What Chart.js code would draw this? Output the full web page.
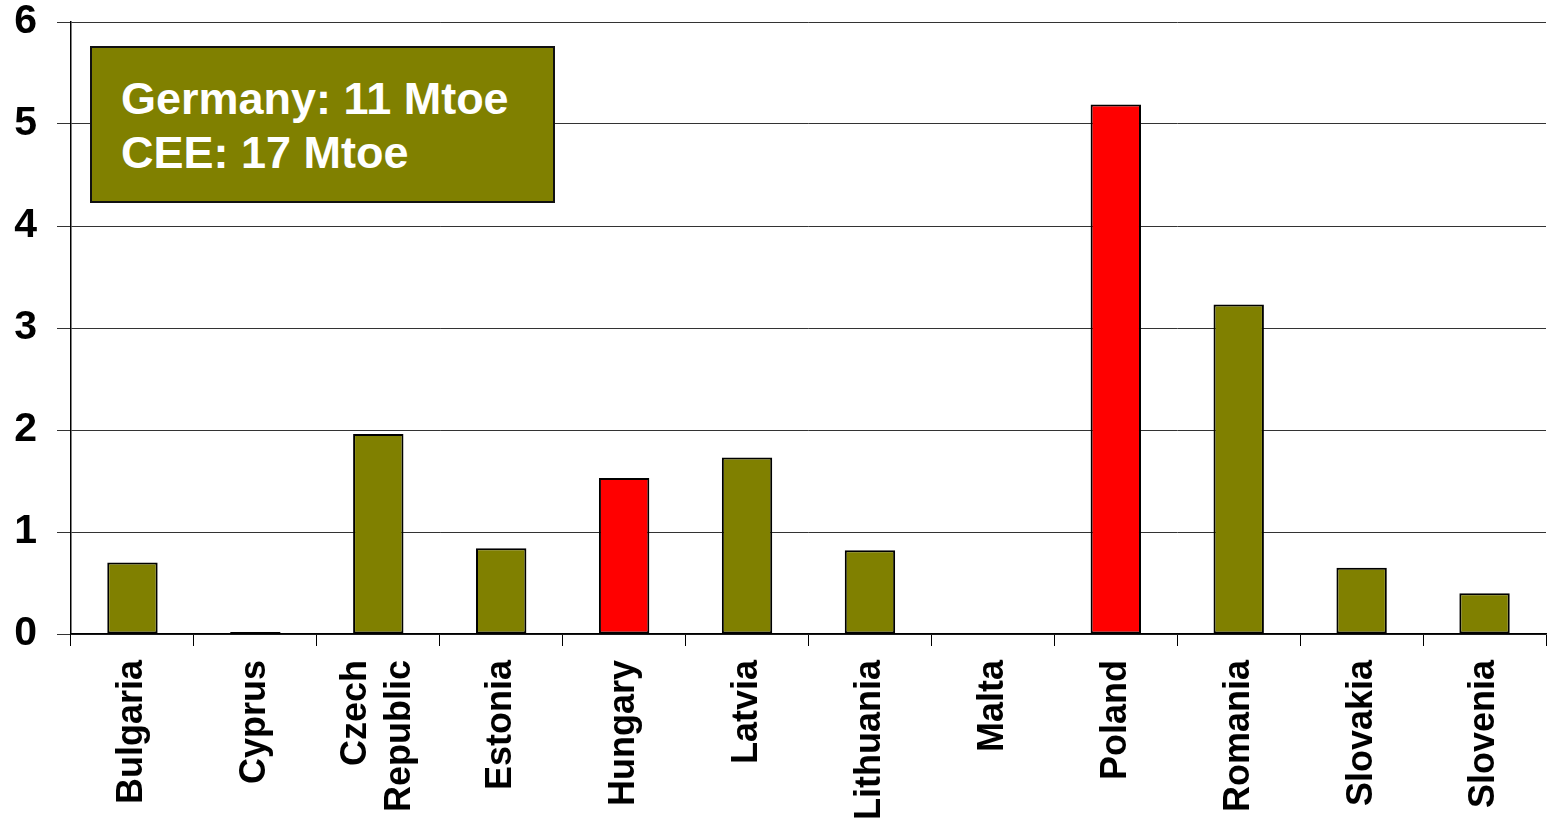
<!DOCTYPE html>
<html lang="en">
<head>
<meta charset="utf-8">
<script src="https://cdn.jsdelivr.net/npm/chart.js"></script>
<style>
  html, body { margin: 0; padding: 0; background: #fff; }
  .wrap { position: relative; width: 1550px; height: 819px; }
  .note {
    position: absolute; left: 90px; top: 46px; width: 465px; height: 157px;
    background: #808000; border: 2px solid #111;
    color: #fff; font: bold 45px "Liberation Sans", Arial, sans-serif;
    line-height: 54px; padding: 24px 0 0 29px; box-sizing: border-box;
  }
</style>
</head>
<body>
<div class="wrap">
  <canvas id="c" width="1550" height="819"></canvas>
  <div class="note">Germany: 11 Mtoe<br>CEE: 17 Mtoe</div>
</div>
<script>
const countries = ['Bulgaria', 'Cyprus', ['Czech', 'Republic'], 'Estonia', 'Hungary', 'Latvia',
  'Lithuania', 'Malta', 'Poland', 'Romania', 'Slovakia', 'Slovenia'];
const values = [0.70, 0.02, 1.96, 0.84, 1.53, 1.73, 0.82, 0, 5.19, 3.23, 0.65, 0.40];
const highlighted = ['Hungary', 'Poland'];
const yTicks = [0, 1, 2, 3, 4, 5, 6];

const OLIVE = '#808000';
const RED = '#FF0000';
const colors = countries.map(c => highlighted.includes(c) ? RED : OLIVE);

const font = 'Liberation Sans, Arial, sans-serif';

// two-line rotated labels: centre the block on the tick instead of starting at it
const centerMultiline = {
  id: 'centerMultiline',
  beforeDraw(chart) {
    const s = chart.scales.x;
    s.getLabelItems().forEach(item => {
      if (Array.isArray(item.label) && !item._centered) {
        const lh = s._resolveTickFontOptions(0).lineHeight;
        item.options.translation[0] -= (item.label.length - 1) * lh / 2;
        item._centered = true;
      }
    });
  }
};

new Chart(document.getElementById('c'), {
  type: 'bar',
  data: {
    labels: countries,
    datasets: [{
      data: values,
      backgroundColor: colors,
      borderColor: '#000',
      borderWidth: 2,
      borderSkipped: false,
      barPercentage: 0.41,
      categoryPercentage: 1
    }]
  },
  options: {
    responsive: false,
    animation: false,
    layout: { padding: { top: 22, right: 4, left: 0, bottom: 0 } },
    plugins: { legend: { display: false }, tooltip: { enabled: false } },
    scales: {
      x: {
        grid: { offset: true, drawOnChartArea: false, tickLength: 12, color: '#000', lineWidth: 1 },
        border: { color: '#000', width: 1.5 },
        ticks: {
          color: '#000', font: { family: font, size: 36, weight: 'bold', lineHeight: 1.22 },
          minRotation: 90, maxRotation: 90, autoSkip: false, padding: 14
        },
        afterFit: s => { s.height = 185; }
      },
      y: {
        min: 0, max: 6,
        afterBuildTicks: s => { s.ticks = yTicks.map(v => ({ value: v })); },
        grid: { color: '#333', lineWidth: 1, tickLength: 14 },
        border: { color: '#000', width: 1.5 },
        ticks: {
          color: '#000', font: { family: font, size: 41, weight: 'bold', lineHeight: 1.08 }, padding: 20
        },
        afterFit: s => { s.width = 71; s.paddingTop = 0; s.paddingBottom = 0; }
      }
    }
  },
  plugins: [centerMultiline]
});
</script>
</body>
</html>
